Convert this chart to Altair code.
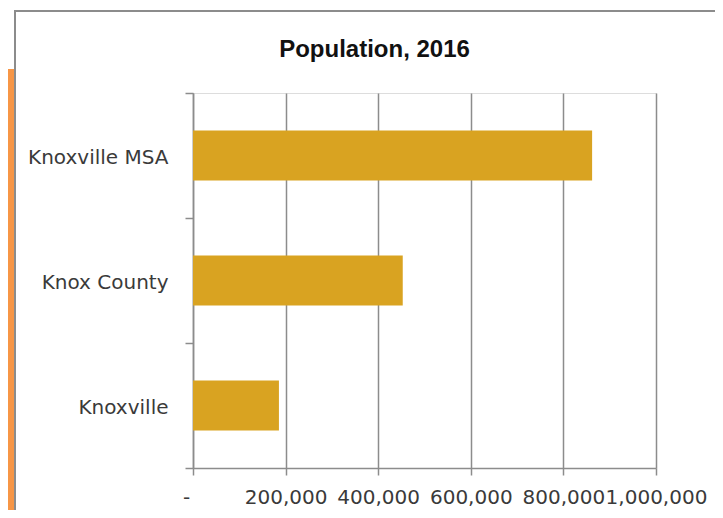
import altair as alt
import pandas as pd

places = ["Knoxville MSA", "Knox County", "Knoxville"]
population = [862000, 453000, 185600]
x_ticks = [0, 200000, 400000, 600000, 800000, 1000000]

df = pd.DataFrame({"place": places, "population": population})
deco = pd.DataFrame({"k": [0]})

LABEL_FONT = "DejaVu Sans"
GRID = "#8c8c8c"

strip = alt.Chart(deco).mark_rect(color="#F79646").encode(
    x=alt.value(-185), x2=alt.value(-179), y=alt.value(-24), y2=alt.value(600)
)
frame = alt.Chart(deco).mark_rect(
    fillOpacity=0, stroke=GRID, strokeWidth=2
).encode(
    x=alt.value(-178), x2=alt.value(700), y=alt.value(-82), y2=alt.value(700)
)

bars = alt.Chart(df).mark_bar(color="#D9A321", height={"band": 0.4}).encode(
    x=alt.X(
        "population:Q",
        scale=alt.Scale(domain=[0, 1000000], nice=False, zero=True),
        axis=alt.Axis(
            values=x_ticks,
            title=None,
            grid=True,
            gridColor=GRID,
            gridWidth=1.5,
            domainColor=GRID,
            domainWidth=1.5,
            tickColor=GRID,
            tickWidth=1.5,
            tickSize=7,
            labelPadding=12,
            labelFont=LABEL_FONT,
            labelFontSize=20,
            labelColor="#3a3a3a",
            labelFlush=False,
            labelOverlap=False,
            labelOffset={"condition": {"test": "datum.value == 0", "value": -7}, "value": 0},
            labelExpr="datum.value == 0 ? '-' : format(datum.value, ',')",
        ),
    ),
    y=alt.Y(
        "place:N",
        sort=places,
        scale=alt.Scale(paddingInner=0, paddingOuter=0),
        axis=alt.Axis(
            title=None,
            grid=False,
            domainColor=GRID,
            domainWidth=1.5,
            tickColor=GRID,
            tickWidth=1.5,
            tickSize=8,
            tickBand="extent",
            labelPadding=17,
            labelFont=LABEL_FONT,
            labelFontSize=20,
            labelColor="#3a3a3a",
            labelOffset=2,
        ),
    ),
)

chart = alt.layer(strip, frame, bars).properties(
    width=463,
    height=375,
    title=alt.TitleParams(
        "Population, 2016",
        font="Liberation Sans",
        fontSize=24,
        fontWeight="bold",
        color="#111111",
        anchor="middle",
        baseline="alphabetic",
        offset=-71,
        dx=-50,
    ),
    autosize=alt.AutoSizeParams(type="none"),
    padding={"left": 185, "top": 85, "right": 59, "bottom": 42},
).configure_view(stroke=None).configure(background="white")

chart.save("out.html", embed_options={"renderer": "svg", "actions": False})
